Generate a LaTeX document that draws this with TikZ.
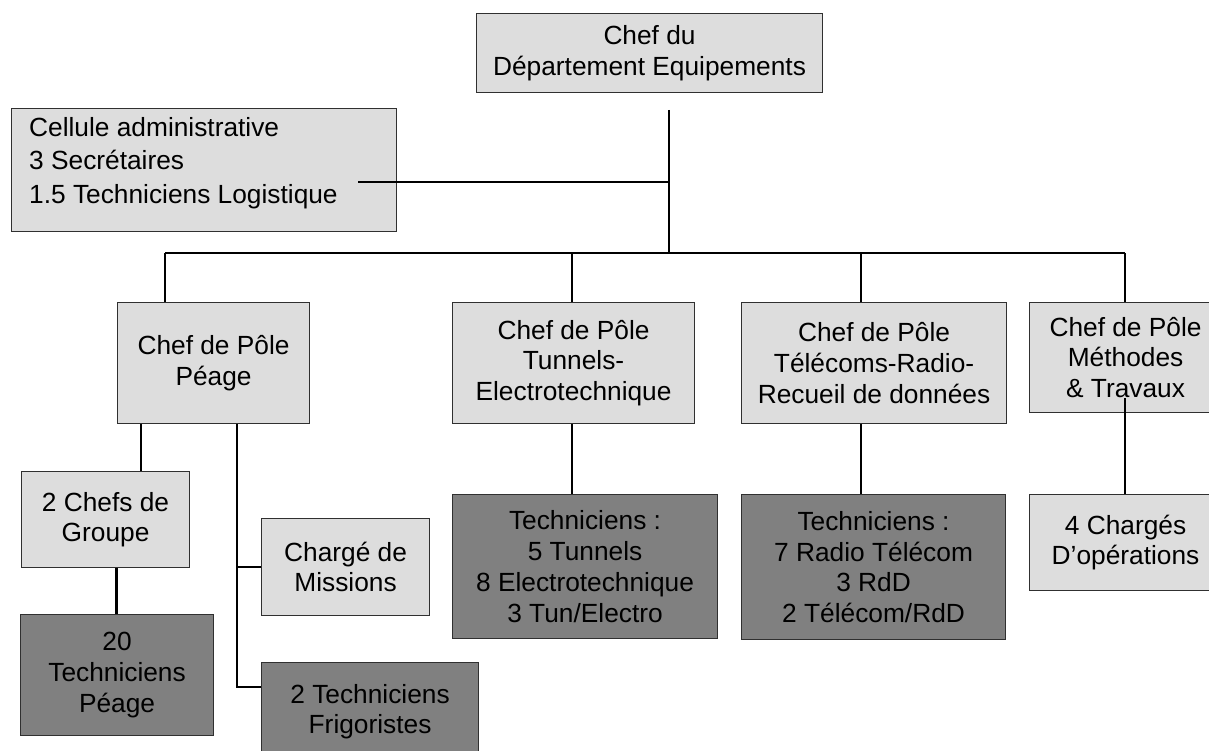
\documentclass[tikz,border=0pt]{standalone}
\usepackage{fontspec}
\setmainfont{Liberation Sans}
\usetikzlibrary{calc}
\definecolor{lightbox}{HTML}{DDDDDD}
\definecolor{darkbox}{HTML}{808080}
\definecolor{edgecol}{HTML}{303030}
\begin{document}
\begin{tikzpicture}[x=1pt,y=-1pt,
  box/.style={draw=edgecol, line width=1.1pt, inner sep=0pt, anchor=north west, align=center,
              font=\fontsize{26.3}{30.7}\selectfont},
  lbox/.style={box, fill=lightbox},
  dbox/.style={box, fill=darkbox},
  link/.style={draw=black, line width=1.8pt},
  boldlink/.style={draw=black, line width=3pt}]
\useasboundingbox[fill=white] (0,0) rectangle (1209,751);

% boxes
\node[lbox, minimum width=346pt, minimum height=79pt] (chef) at (476,13) {Chef du\\Département Equipements};
\node[lbox, minimum width=385pt, minimum height=123pt] (cell) at (11,108) {};
\node[anchor=north west, inner sep=0pt, align=left, font=\fontsize{26.3}{33.5}\selectfont] (celltxt) at (29,117)
  {Cellule administrative\\3 Secrétaires\\1.5 Techniciens Logistique};

\node[lbox, minimum width=192pt, minimum height=121pt] (peage) at (117,302) {Chef de Pôle\\Péage};
\node[lbox, minimum width=242pt, minimum height=121pt] (tunnels) at (452,302) {Chef de Pôle\\Tunnels-\\Electrotechnique};
\node[lbox, minimum width=265pt, minimum height=121pt] (telecoms) at (741,302) {Chef de Pôle\\Télécoms-Radio-\\Recueil de données};
\node[lbox, minimum width=192pt, minimum height=110pt] (methodes) at (1029,302) {Chef de Pôle\\Méthodes\\\& Travaux};

\node[dbox, minimum width=265pt, minimum height=144pt] (techT) at (452,494) {Techniciens :\\5 Tunnels\\8 Electrotechnique\\3 Tun/Electro};
\node[dbox, minimum width=264pt, minimum height=145pt] (techR) at (741,494) {Techniciens :\\7 Radio Télécom\\3 RdD\\2 Télécom/RdD};
\node[lbox, minimum width=192pt, minimum height=96pt] (charges) at (1029,494) {4 Chargés\\D’opérations};

\node[lbox, minimum width=168pt, minimum height=96pt] (groupe) at (21,471) {2 Chefs de\\Groupe};
\node[dbox, minimum width=193pt, minimum height=121pt] (tech20) at (20,614) {20\\Techniciens\\Péage};
\node[lbox, minimum width=168pt, minimum height=97pt] (missions) at (261,518) {Chargé de\\Missions};
\node[dbox, minimum width=217pt, minimum height=98pt] (frigo) at (261,662) {2 Techniciens\\Frigoristes};

% junction coordinates
\coordinate (vtop) at (669,110);
\coordinate (bus) at (669,253);
\coordinate (cellend) at (358,182);
\coordinate (xP) at (165,253);
\coordinate (xT) at (572,253);
\coordinate (xR) at (861,253);
\coordinate (xM) at (1125,253);
\coordinate (mstart) at (1125,398);
\coordinate (xPL) at (141,0);
\coordinate (xPR) at (237,0);
\coordinate (fr) at (237,687);
\coordinate (xG) at (116,0);

% connectors
\draw[link] (vtop) -- (bus);
\draw[link] (cellend) -- (cellend -| bus);
\draw[link] (xP) -- (xM);
\draw[link] (xP) -- (xP |- peage.north);
\draw[link] (xT) -- (xT |- tunnels.north);
\draw[link] (xR) -- (xR |- telecoms.north);
\draw[link] (xM) -- (xM |- methodes.north);
\draw[link] (xT |- tunnels.south) -- (xT |- techT.north);
\draw[link] (xR |- telecoms.south) -- (xR |- techR.north);
\draw[link] (mstart) -- (mstart |- charges.north);
\draw[link] (xPL |- peage.south) -- (xPL |- groupe.north);
\draw[link] (xPR |- peage.south) -- (fr) -- (fr -| frigo.west);
\draw[link] (xPR |- missions.west) -- (missions.west);
\draw[boldlink] (xG |- groupe.south) -- (xG |- tech20.north);
\end{tikzpicture}
\end{document}
